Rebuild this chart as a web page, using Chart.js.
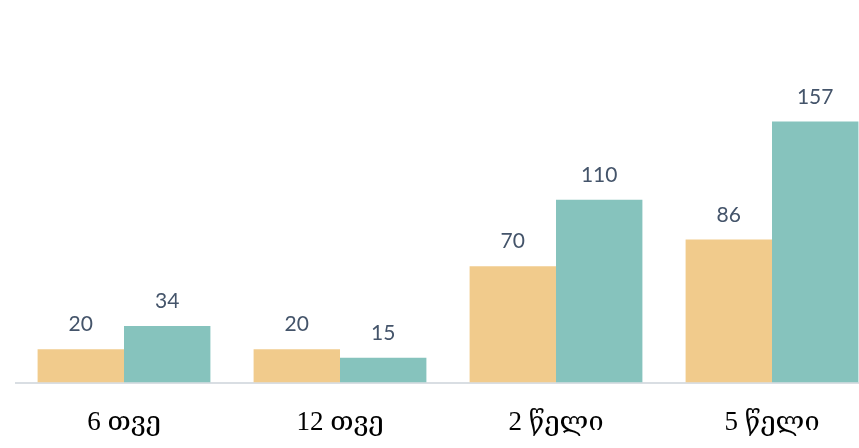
<!DOCTYPE html>
<html>
<head>
<meta charset="utf-8">
<script src="https://cdn.jsdelivr.net/npm/chart.js@4"></script>
<style>
  html, body { margin: 0; padding: 0; background: #fff; overflow: hidden; }
  #wrap { position: absolute; left: 0; top: 0; width: 880px; height: 475px; }
</style>
</head>
<body>
<div id="wrap"><canvas id="c" width="880" height="475"></canvas></div>
<script>
const categories = ["6 თვე", "12 თვე", "2 წელი", "5 წელი"];
const seriesA = [20, 20, 70, 86];
const seriesB = [34, 15, 110, 157];
const seriesNames = ["A", "B"];

const valueLabels = {
  id: 'valueLabels',
  afterDatasetsDraw(chart) {
    const ctx = chart.ctx;
    ctx.save();
    ctx.font = '21px Lato, "Open Sans", sans-serif';
    ctx.fillStyle = '#44546A';
    ctx.textAlign = 'center';
    ctx.textBaseline = 'alphabetic';
    chart.data.datasets.forEach((ds, i) => {
      const meta = chart.getDatasetMeta(i);
      meta.data.forEach((el, j) => {
        ctx.fillText(String(ds.data[j]), el.x, el.y - 18);
      });
    });
    ctx.restore();
  }
};

new Chart(document.getElementById('c'), {
  type: 'bar',
  data: {
    labels: categories,
    datasets: [
      { label: seriesNames[0], data: seriesA, backgroundColor: '#F1CB8C', borderWidth: 0 },
      { label: seriesNames[1], data: seriesB, backgroundColor: '#86C3BD', borderWidth: 0 }
    ]
  },
  options: {
    responsive: false,
    animation: false,
    devicePixelRatio: 1,
    layout: { padding: { left: 16, right: 0, top: 50, bottom: 12 } },
    datasets: { bar: { categoryPercentage: 0.8, barPercentage: 1.0 } },
    plugins: { legend: { display: false }, tooltip: { enabled: false } },
    scales: {
      x: {
        grid: { display: false, drawTicks: false },
        border: { display: true, color: '#D9DEE3', width: 2 },
        ticks: {
          color: '#000',
          padding: 24,
          maxRotation: 0,
          font: { family: '"Liberation Serif", "DejaVu Serif", serif', size: 27 }
        }
      },
      y: {
        display: false,
        min: 0,
        max: 200
      }
    }
  },
  plugins: [valueLabels]
});
</script>
</body>
</html>
